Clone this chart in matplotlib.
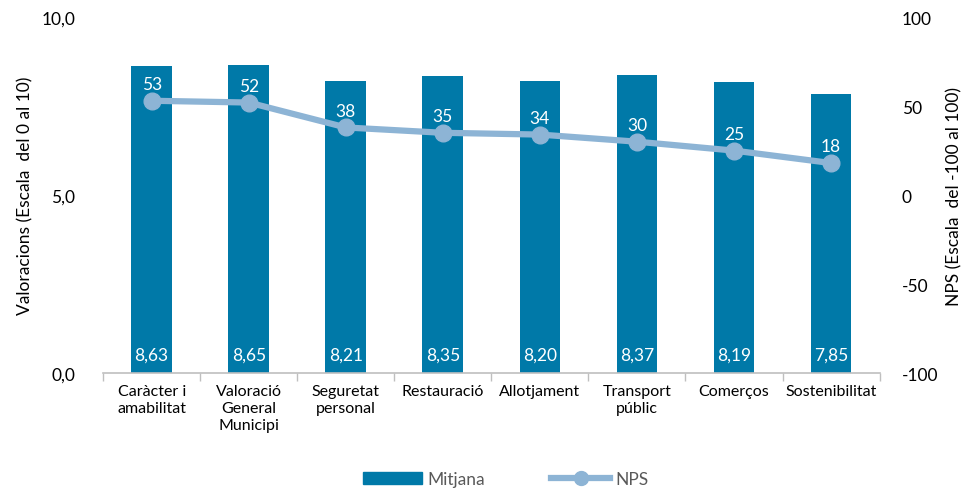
import numpy as np
import matplotlib.pyplot as plt
from matplotlib.lines import Line2D
from matplotlib.patches import Patch

plt.rcParams['font.family'] = ['Lato', 'DejaVu Sans']

categories = ['Caràcter i\namabilitat', 'Valoració\nGeneral\nMunicipi', 'Seguretat\npersonal',
              'Restauració', 'Allotjament', 'Transport\npúblic', 'Comerços', 'Sostenibilitat']
mitjana = [8.63, 8.65, 8.21, 8.35, 8.20, 8.37, 8.19, 7.85]
nps = [53, 52, 38, 35, 34, 30, 25, 18]

bar_color = '#0079A8'
line_color = '#8DB4D5'

fig = plt.figure(figsize=(9.73, 4.89), dpi=100)
ax = fig.add_axes([0.106, 0.235, 0.798, 0.728])
ax2 = ax.twinx()

x = np.arange(len(categories))
ax.bar(x, mitjana, width=0.42, color=bar_color, zorder=2)
for xi, v in zip(x, mitjana):
    ax.text(xi, 0.28, f'{v:.2f}'.replace('.', ','), ha='center', va='bottom',
            color='white', fontsize=12.5, zorder=3)

ax.set_xlim(-0.5, len(categories) - 0.5)
ax.set_ylim(0, 10)
ax.set_yticks([0, 5, 10])
ax.set_yticklabels(['0,0', '5,0', '10,0'], fontsize=12.5)
ax.set_xticks(x)
ax.set_xticklabels(categories, fontsize=11.5, linespacing=1.25)
ax.set_xticks(np.arange(len(categories) + 1) - 0.5, minor=True)
ax.tick_params(axis='x', which='major', length=0, pad=8)
ax.tick_params(axis='x', which='minor', length=6, color='#BFBFBF', width=1)
ax.tick_params(axis='y', length=0, pad=20)
ax.set_ylabel('Valoracions (Escala  del 0 al 10)', fontsize=12.5, labelpad=6)
for s in ['top', 'left', 'right']:
    ax.spines[s].set_visible(False)
ax.spines['bottom'].set_color('#BFBFBF')
ax.spines['bottom'].set_linewidth(1.2)

ax2.plot(x, nps, color=line_color, lw=4.5, marker='o', markersize=12, zorder=4)
for xi, v in zip(x, nps):
    ax2.text(xi, v + 5, str(v), ha='center', va='bottom', color='white', fontsize=12.5, zorder=5)
ax2.set_ylim(-100, 100)
ax2.set_yticks([-100, -50, 0, 50, 100])
ax2.set_yticklabels(['-100', '-50', '0', '50', '100'], fontsize=12.5)
ax2.tick_params(axis='y', length=0, pad=16)
ax2.set_ylabel('NPS (Escala  del -100 al 100)', fontsize=12.5, labelpad=6)
for s in ['top', 'left', 'right', 'bottom']:
    ax2.spines[s].set_visible(False)

handles = [Patch(color=bar_color),
           Line2D([], [], color=line_color, lw=4.5, marker='o', markersize=10)]
fig.legend(handles, ['Mitjana', 'NPS'], loc='lower center', bbox_to_anchor=(0.52, -0.03),
           ncol=2, frameon=False, fontsize=12.5, labelcolor='#595959',
           handlelength=3.4, columnspacing=3.8, handletextpad=0.3)

fig.savefig('out.png', dpi=100)
